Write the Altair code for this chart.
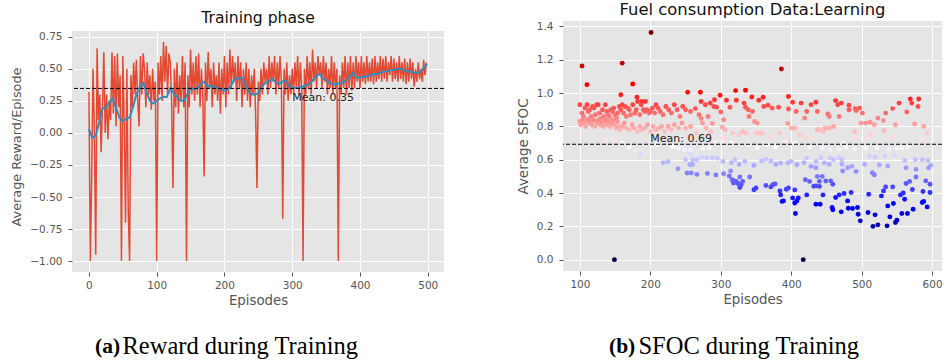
import altair as alt
import pandas as pd

# ---------------- Left panel data: reward per episode (read every 2 episodes) ----------------
reward_episodes = list(range(0, 500, 2))
reward_values = [
    0.32, -1.0, -0.38, 0.5, 0.05, -0.95, 0.66, 0.1, 0.3, -0.15,
    0.2, 0.63, 0.0, 0.3, -0.05, 0.25, 0.1, 0.63, 0.15, 0.6,
    0.05, 0.62, 0.2, 0.45, -1.0, 0.6, 0.1, -0.7, 0.5, -0.6,
    -1.0, 0.45, 0.2, 0.55, 0.3, 0.57, 0.25, 0.05, 0.6, 0.3,
    0.62, 0.5, 0.2, 0.55, 0.3, 0.45, 0.18, 0.5, 0.25, 0.4,
    -1.0, 0.55, 0.3, 0.6, 0.25, 0.71, 0.4, 0.68, 0.3, 0.62,
    0.55, 0.25, -0.43, 0.5, 0.2, 0.55, 0.15, 0.45, 0.25, 0.6,
    0.2, 0.55, -1.0, 0.45, 0.2, 0.65, 0.3, 0.55, 0.25, 0.6,
    0.3, 0.62, 0.2, 0.5, 0.3, -0.34, 0.55, 0.25, 0.63, 0.35,
    0.5, 0.2, 0.55, 0.3, 0.45, 0.25, 0.55, 0.15, 0.5, 0.3,
    0.6, 0.2, 0.55, 0.3, 0.65, 0.35, 0.6, 0.4, 0.55, 0.25,
    0.6, 0.35, 0.55, 0.2, 0.5, 0.3, 0.55, 0.25, 0.5, 0.2,
    0.45, 0.3, 0.5, 0.15, -0.43, 0.4, 0.25, 0.5, 0.3, 0.55,
    0.4, 0.5, 0.3, 0.6, 0.35, 0.55, 0.4, 0.6, 0.3, 0.55,
    0.35, 0.6, 0.4, -0.67, 0.5, 0.3, 0.55, 0.25, 0.45, 0.3,
    0.5, 0.3, 0.55, 0.35, 0.6, 0.3, 0.55, 0.35, -1.0, 0.5,
    0.3, 0.6, 0.35, 0.55, 0.3, 0.65, 0.4, 0.55, 0.35, 0.6,
    0.45, 0.55, 0.35, 0.6, 0.4, 0.55, 0.3, 0.5, 0.35, 0.6,
    0.3, 0.55, 0.35, 0.5, -1.0, 0.45, 0.3, 0.55, 0.35, 0.6,
    0.3, 0.55, 0.35, 0.6, 0.33, 0.55, 0.35, 0.6, 0.4, 0.55,
    0.35, 0.6, 0.4, 0.55, 0.38, 0.6, 0.4, 0.55, 0.4, 0.58,
    0.38, 0.6, 0.4, 0.55, 0.42, 0.6, 0.4, 0.58, 0.42, 0.6,
    0.4, 0.55, 0.45, 0.6, 0.4, 0.58, 0.42, 0.55, 0.4, 0.6,
    0.42, 0.55, 0.4, 0.58, 0.38, 0.55, 0.4, 0.58, 0.42, 0.55,
    0.36, 0.5, 0.4, 0.55, 0.42, 0.5, 0.4, 0.57, 0.45, 0.55,
]
smooth_episodes = list(range(0, 500, 5)) + [499]
smooth_values = [
    0.03, -0.04, -0.02, 0.08, 0.19, 0.2, 0.24, 0.27, 0.2, 0.12,
    0.09, 0.11, 0.12, 0.2, 0.3, 0.36, 0.39, 0.32, 0.25, 0.23,
    0.25, 0.27, 0.28, 0.28, 0.35, 0.31, 0.28, 0.25, 0.25, 0.3,
    0.35, 0.34, 0.35, 0.38, 0.4, 0.36, 0.37, 0.36, 0.35, 0.34,
    0.33, 0.34, 0.37, 0.42, 0.43, 0.43, 0.39, 0.33, 0.3, 0.3,
    0.31, 0.36, 0.39, 0.4, 0.42, 0.4, 0.38, 0.4, 0.41, 0.37,
    0.35, 0.35, 0.35, 0.36, 0.37, 0.38, 0.41, 0.44, 0.46, 0.43,
    0.41, 0.39, 0.38, 0.38, 0.39, 0.39, 0.41, 0.44, 0.47, 0.43,
    0.43, 0.44, 0.44, 0.45, 0.46, 0.46, 0.47, 0.48, 0.48, 0.49,
    0.49, 0.5, 0.5, 0.49, 0.48, 0.48, 0.47, 0.47, 0.48, 0.51,
    0.54,
]
reward_mean = 0.347

# ---------------- Right panel data: SFOC scatter (episode, SFOC) ----------------
sfoc_outliers = [(103, 1.163), (110, 1.05), (149, 0.0), (158, 0.99), (160, 1.18), (175, 1.055),
                 (181, 0.975), (188, 0.95), (193, 0.95), (201, 1.364), (253, 1.005), (386, 1.145),
                 (417, 0.0), (406, 0.277)]
sfoc_red_a = [(100, 0.93), (103, 0.88), (105, 0.86), (107, 0.91), (110, 0.93), (112, 0.89), (114, 0.9),
              (116, 0.86), (118, 0.92), (120, 0.91), (122, 0.87), (124, 0.93), (126, 0.93), (128, 0.88),
              (130, 0.85), (132, 0.9), (134, 0.86), (136, 0.93), (138, 0.89), (140, 0.87), (142, 0.86),
              (144, 0.9), (146, 0.89), (148, 0.91), (150, 0.87), (152, 0.85), (154, 0.88), (156, 0.92),
              (158, 0.9), (160, 0.93), (162, 0.88), (164, 0.92), (166, 0.86), (168, 0.91), (170, 0.9),
              (172, 0.87), (175, 0.93), (178, 0.88), (180, 0.9), (182, 0.95), (185, 0.87), (187, 0.93),
              (190, 0.9), (192, 0.89), (195, 0.9), (198, 0.88), (200, 0.89), (203, 0.91), (206, 0.88),
              (208, 0.93), (211, 0.91), (214, 0.89), (218, 0.87), (222, 0.92), (226, 0.9), (230, 0.88),
              (234, 0.93), (238, 0.9), (242, 0.86), (246, 0.92), (250, 0.9)]
sfoc_pink_a = [(100, 0.83), (101, 0.81), (104, 0.84), (106, 0.82), (108, 0.8), (111, 0.84), (113, 0.82),
               (115, 0.83), (117, 0.81), (119, 0.84), (121, 0.8), (123, 0.83), (125, 0.82), (127, 0.84),
               (129, 0.81), (131, 0.83), (133, 0.8), (135, 0.82), (137, 0.84), (139, 0.81), (141, 0.83),
               (143, 0.8), (145, 0.82), (147, 0.84), (149, 0.81), (151, 0.79), (153, 0.83), (155, 0.8),
               (157, 0.78), (160, 0.8), (163, 0.82), (166, 0.79), (170, 0.78), (174, 0.81), (177, 0.79),
               (181, 0.77), (185, 0.8), (188, 0.78), (192, 0.79), (196, 0.81), (200, 0.77), (204, 0.8),
               (208, 0.78), (212, 0.79), (216, 0.8), (220, 0.77), (225, 0.8), (229, 0.78), (234, 0.81),
               (240, 0.79), (245, 0.82), (250, 0.79)]
sfoc_light_a = [(137, 0.72), (147, 0.72), (160, 0.70), (170, 0.676), (179, 0.652), (186, 0.632),
                (210, 0.69), (225, 0.72), (232, 0.68), (240, 0.67), (248, 0.66), (255, 0.74), (262, 0.73)]
sfoc_blue_a = [(218, 0.582), (225, 0.588), (239, 0.546), (250, 0.60), (256, 0.57), (260, 0.60),
               (252, 0.52), (258, 0.52)]
sfoc_red_b = [(257, 0.89), (264, 0.907), (269, 0.87), (271, 1.005), (272, 0.95), (272, 0.848), (278, 0.93),
              (282, 0.86), (285, 0.94), (290, 0.92), (291, 0.96), (294, 0.915), (299, 0.987), (300, 0.887),
              (308, 0.957), (313, 0.915), (321, 1.015), (322, 0.957), (333, 0.94), (335, 1.017), (335, 0.915),
              (339, 0.9), (340, 0.86), (344, 0.977), (345, 0.89), (348, 0.83), (352, 0.82), (354, 0.957),
              (360, 0.975), (361, 0.92), (367, 0.927), (373, 0.91), (382, 0.915), (396, 0.98), (396, 0.905),
              (402, 0.945), (407, 0.89), (414, 0.94), (419, 0.85), (422, 0.89), (428, 0.93)]
sfoc_pink_b = [(257, 0.80), (265, 0.76), (274, 0.82), (279, 0.79), (283, 0.75), (286, 0.77), (288, 0.818),
               (302, 0.795), (304, 0.84), (306, 0.78), (304, 0.73), (317, 0.76), (326, 0.75), (331, 0.77),
               (336, 0.76), (350, 0.76), (355, 0.76), (359, 0.76), (370, 0.74), (383, 0.76), (395, 0.818),
               (400, 0.79), (405, 0.79), (412, 0.75), (420, 0.74), (428, 0.73), (437, 0.78)]
sfoc_white_b = [(257, 0.66), (274, 0.668), (284, 0.672), (293, 0.71), (303, 0.7), (315, 0.7), (340, 0.69),
                (352, 0.672), (366, 0.69), (378, 0.678), (392, 0.71), (405, 0.7), (426, 0.676)]
sfoc_light_b = [(257, 0.632), (260, 0.572), (266, 0.6), (273, 0.616), (280, 0.612), (288, 0.612),
                (295, 0.608), (303, 0.59), (314, 0.532), (315, 0.582), (320, 0.6), (326, 0.572), (334, 0.59),
                (347, 0.566), (358, 0.592), (364, 0.604), (371, 0.592), (378, 0.572), (385, 0.58),
                (395, 0.582), (400, 0.59), (408, 0.57), (418, 0.582), (422, 0.61), (428, 0.56), (435, 0.552)]
sfoc_blue_b = [(266, 0.512), (281, 0.518), (293, 0.508), (304, 0.516), (312, 0.502), (316, 0.48),
               (318, 0.46), (319, 0.472), (322, 0.47), (324, 0.457), (327, 0.433), (327, 0.496), (329, 0.45),
               (331, 0.47), (341, 0.496), (347, 0.42), (350, 0.43), (364, 0.445), (371, 0.437), (374, 0.45),
               (377, 0.455), (384, 0.413), (385, 0.389), (387, 0.35), (389, 0.353), (393, 0.423),
               (396, 0.43), (402, 0.37), (405, 0.419), (405, 0.34), (408, 0.353), (410, 0.37), (420, 0.48),
               (422, 0.389), (426, 0.47), (432, 0.441), (435, 0.333)]
sfoc_red_c = [(435, 0.945), (437, 0.89), (452, 0.875), (454, 0.86), (463, 0.955), (466, 0.93), (468, 0.86),
              (471, 0.94), (482, 0.927), (482, 0.9), (491, 0.907), (492, 0.895), (497, 0.91), (501, 0.88),
              (523, 0.85), (531, 0.835), (534, 0.88), (544, 0.907), (553, 0.94), (564, 0.887), (569, 0.965),
              (571, 0.94), (575, 0.815), (580, 0.92), (581, 0.965), (588, 0.8)]
sfoc_pink_c = [(440, 0.78), (446, 0.77), (448, 0.79), (454, 0.79), (460, 0.8), (489, 0.73), (490, 0.77),
               (499, 0.82), (506, 0.82), (508, 0.727), (512, 0.825), (512, 0.75), (518, 0.81), (532, 0.775),
               (544, 0.735), (548, 0.81), (585, 0.72), (593, 0.76)]
sfoc_white_c = [(444, 0.67), (455, 0.66), (468, 0.665), (474, 0.70), (478, 0.676), (490, 0.665),
                (506, 0.672), (522, 0.672), (539, 0.662), (550, 0.67), (557, 0.672), (566, 0.68)]
sfoc_light_c = [(435, 0.59), (442, 0.612), (447, 0.58), (455, 0.612), (460, 0.6), (468, 0.612), (472, 0.6),
                (454, 0.572), (472, 0.572), (480, 0.552), (473, 0.532), (486, 0.56), (492, 0.53), (504, 0.572),
                (511, 0.622), (515, 0.522), (519, 0.616), (518, 0.51), (525, 0.568), (533, 0.622),
                (537, 0.562), (546, 0.628), (561, 0.596), (563, 0.552), (577, 0.542), (576, 0.6), (586, 0.6),
                (594, 0.596), (598, 0.566), (595, 0.55)]
sfoc_blue_c = [(437, 0.5), (440, 0.47), (444, 0.5), (435, 0.443), (440, 0.44), (441, 0.333), (445, 0.389),
               (449, 0.472), (456, 0.472), (459, 0.453), (458, 0.313), (459, 0.3), (463, 0.373), (468, 0.389),
               (471, 0.287), (475, 0.397), (480, 0.353), (481, 0.309), (485, 0.403), (487, 0.307),
               (494, 0.313), (495, 0.273), (498, 0.233), (510, 0.393), (509, 0.283), (516, 0.2), (519, 0.269),
               (523, 0.209), (528, 0.383), (531, 0.413), (534, 0.437), (536, 0.203), (537, 0.323),
               (540, 0.257), (544, 0.437), (545, 0.337), (548, 0.223), (550, 0.237), (555, 0.389),
               (557, 0.277), (559, 0.4), (561, 0.363), (563, 0.457), (565, 0.277), (568, 0.47), (572, 0.421),
               (573, 0.303), (577, 0.496), (586, 0.343), (587, 0.409), (588, 0.35), (591, 0.473),
               (593, 0.317), (597, 0.453), (597, 0.403)]
sfoc_mean = 0.693

# seismic colormap stops
seismic_colors = ["#00004d", "#0000ff", "#ffffff", "#ff0000", "#800000"]

# ---------------- Build tables ----------------
reward_df = pd.DataFrame({"Episode": reward_episodes, "Reward": reward_values})
smooth_df = pd.DataFrame({"Episode": smooth_episodes, "Reward": smooth_values})
all_sfoc = (sfoc_outliers + sfoc_red_a + sfoc_pink_a + sfoc_light_a + sfoc_blue_a + sfoc_red_b
            + sfoc_pink_b + sfoc_white_b + sfoc_light_b + sfoc_blue_b + sfoc_red_c + sfoc_pink_c
            + sfoc_white_c + sfoc_light_c + sfoc_blue_c)
sfoc_df = pd.DataFrame(all_sfoc, columns=["Episode", "SFOC"])
smin, smax = 0.0, float(sfoc_df["SFOC"].max())
color_domain = [smin + (smax - smin) * f for f in (0, 0.25, 0.5, 0.75, 1.0)]

one = pd.DataFrame({"k": [0]})
FONT = "DejaVu Sans"
SERIF = "Liberation Serif"

# ---------------- Left panel ----------------
# Both panels share the same top in the concat layout; the left plot's visible area starts
# 10px lower, so its frame is 10px taller and the extra strip is blanked out.
LW, LH, LTOP = 372, 251, 10
y_top = 0.795 + 1.88 * LTOP / 241
xL = alt.X("Episode:Q", scale=alt.Scale(domain=[-25, 524], nice=False, zero=False),
           axis=alt.Axis(values=[0, 100, 200, 300, 400, 500], format="d", title="Episodes"))
yL = alt.Y("Reward:Q", scale=alt.Scale(domain=[-1.085, y_top], nice=False, zero=False),
           axis=alt.Axis(values=[-1.0, -0.75, -0.5, -0.25, 0.0, 0.25, 0.5, 0.75], format=".2f",
                         title="Average Reward/Episode", titleFontSize=12.8))

blank_l = alt.Chart(one).mark_rect(color="white", opacity=1).encode(
    x=alt.value(-1), x2=alt.value(LW + 1), y=alt.value(-1), y2=alt.value(LTOP))
red_line = alt.Chart(reward_df).mark_line(color="#E24A33", strokeWidth=1.5).encode(x=xL, y=yL)
blue_line = alt.Chart(smooth_df).mark_line(color="#348ABD", strokeWidth=2).encode(x=xL, y=yL)
mean_l = alt.Chart(pd.DataFrame({"Reward": [reward_mean]})).mark_rule(
    color="black", strokeDash=[4, 2], strokeWidth=1).encode(y=yL)
mean_l_txt = alt.Chart(pd.DataFrame({"Episode": [300], "Reward": [reward_mean],
                                     "label": [f"Mean: {reward_mean:.2f}"]})).mark_text(
    align="left", baseline="alphabetic", dy=13, fontSize=11, font=FONT, color="#222222"
).encode(x=xL, y=yL, text="label:N")
title_l = alt.Chart(one).mark_text(text="Training phase", font=FONT, fontSize=15.6, color="#111111",
                                   align="center", baseline="alphabetic").encode(
    x=alt.value(LW / 2), y=alt.value(2))
anchor_l = alt.Chart(one).mark_text(text=".", fontSize=2, color="white", align="left",
                                    baseline="top").encode(x=alt.value(-72), y=alt.value(-21))
cap_a1 = alt.Chart(one).mark_text(text="(a)", font=SERIF, fontSize=21.5, fontWeight="bold",
                                  color="black", align="left", baseline="middle").encode(
    x=alt.value(23), y=alt.value(326))
cap_a2 = alt.Chart(one).mark_text(text="Reward during Training", font=SERIF, fontSize=24.5,
                                  color="black", align="right", baseline="middle").encode(
    x=alt.value(286), y=alt.value(326))

left = alt.layer(blank_l, red_line, blue_line, mean_l, mean_l_txt, title_l, anchor_l,
                 cap_a1, cap_a2).properties(width=LW, height=LH)

# ---------------- Right panel ----------------
RW, RH = 379, 250
xR = alt.X("Episode:Q", scale=alt.Scale(domain=[76, 614], nice=False, zero=False),
           axis=alt.Axis(values=[100, 200, 300, 400, 500, 600], format="d", title="Episodes"))
yR = alt.Y("SFOC:Q", scale=alt.Scale(domain=[-0.068, 1.433], nice=False, zero=False),
           axis=alt.Axis(values=[0.0, 0.2, 0.4, 0.6, 0.8, 1.0, 1.2, 1.4], format=".1f",
                         title="Average SFOC", titleFontSize=13.5))

scatter = alt.Chart(sfoc_df).mark_circle(size=24, opacity=1).encode(
    x=xR, y=yR,
    color=alt.Color("SFOC:Q", scale=alt.Scale(domain=color_domain, range=seismic_colors,
                                              interpolate="rgb"), legend=None))
mean_r = alt.Chart(pd.DataFrame({"SFOC": [sfoc_mean]})).mark_rule(
    color="black", strokeDash=[4, 2], strokeWidth=1).encode(y=yR)
mean_r_txt = alt.Chart(pd.DataFrame({"Episode": [200], "SFOC": [sfoc_mean],
                                     "label": [f"Mean: {sfoc_mean:.2f}"]})).mark_text(
    align="left", baseline="alphabetic", dy=-2, fontSize=11, font=FONT, color="#222222"
).encode(x=xR, y=yR, text="label:N")
title_r = alt.Chart(one).mark_text(text="Fuel consumption Data:Learning", font=FONT, fontSize=16.4,
                                   color="#111111", align="center", baseline="alphabetic").encode(
    x=alt.value(RW / 2), y=alt.value(-6.5))
anchor_r = alt.Chart(one).mark_text(text=".", fontSize=2, color="white", align="left",
                                    baseline="top").encode(x=alt.value(-112), y=alt.value(-21))
cap_b1 = alt.Chart(one).mark_text(text="(b)", font=SERIF, fontSize=21.5, fontWeight="bold",
                                  color="black", align="left", baseline="middle").encode(
    x=alt.value(46), y=alt.value(326))
cap_b2 = alt.Chart(one).mark_text(text="SFOC during Training", font=SERIF, fontSize=24.5,
                                  color="black", align="right", baseline="middle").encode(
    x=alt.value(296), y=alt.value(326))

right = alt.layer(scatter, mean_r, mean_r_txt, title_r, anchor_r, cap_b1, cap_b2).properties(
    width=RW, height=RH)

chart = alt.hconcat(left, right, spacing=6).properties(padding=0).configure(
    background="white", font=FONT
).configure_view(fill="#E5E5E5", strokeWidth=0).configure_axis(
    domain=False, grid=True, gridColor="white", gridWidth=1, tickColor="#555555", tickSize=4,
    tickWidth=1, labelColor="#555555", labelFont=FONT, labelFontSize=10.5, titleColor="#555555",
    titleFont=FONT, titleFontSize=13.3, titleFontWeight="normal", labelOverlap=False
).configure_axisX(labelPadding=4, titlePadding=3).configure_axisY(labelPadding=6, titlePadding=6)

chart.save("out.html", embed_options={"renderer": "svg", "actions": False})
